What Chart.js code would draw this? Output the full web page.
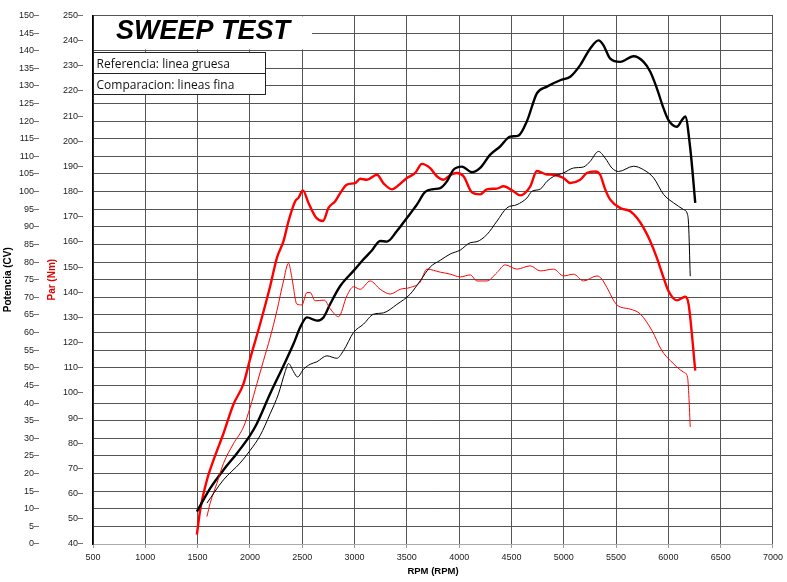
<!DOCTYPE html>
<html>
<head>
<meta charset="utf-8">
<script src="https://cdn.jsdelivr.net/npm/chart.js@4/dist/chart.umd.min.js"></script>
<style>
html,body{margin:0;padding:0;background:#fff;}
#wrap{width:787px;height:582px;}
</style>
</head>
<body>
<div id="wrap"><canvas id="c" width="787" height="582"></canvas></div>
<script>
// ---- data ----
const rpmTicksMin = 500, rpmTicksMax = 7000, rpmStep = 500;
const cvMin = 0, cvMax = 150, cvStep = 5;
const nmMin = 40, nmMax = 250, nmStep = 10;

// Reference power (thick black), CV
const refPowerRpm = [1493,1620,1747,1875,2003,2067,2194,2321,2417,2481,2545,2640,2703,2767,2863,2990,3086,3166,3245,3309,3405,3500,3596,3675,3755,3819,3883,3946,4026,4122,4201,4297,4392,4488,4567,4648,4743,4839,4966,5062,5157,5253,5332,5380,5444,5540,5667,5763,5827,5890,5954,6001,6082,6130,6161,6209,6257];
const refPowerCv  = [9.2,15.8,21.0,25.7,30.9,34.2,42.7,50.6,56.8,61.5,64.3,63.4,64.3,68.1,73.2,77.5,80.8,83.3,86.0,85.8,88.8,92.5,96.3,99.9,100.7,101.0,102.9,106.2,107.1,105.5,106.7,110.5,112.8,115.6,115.9,120.0,127.9,129.8,131.6,132.6,135.9,140.6,142.9,141.5,137.7,136.8,138.4,136.8,134.0,129.3,123.6,120.3,118.4,120.3,121.3,112.3,96.8];

// Comparison power (thin black), CV
const cmpPowerRpm = [1589,1747,1907,2003,2098,2194,2273,2337,2369,2417,2455,2512,2576,2640,2736,2831,2895,2990,3086,3181,3277,3405,3532,3628,3723,3819,3915,4010,4106,4170,4265,4361,4457,4553,4648,4696,4775,4839,4903,4998,5094,5189,5253,5332,5396,5460,5523,5667,5763,5859,5954,6050,6145,6183,6193,6209];
const cmpPowerCv  = [11.6,18.2,23.0,26.6,30.8,37.0,42.6,48.9,51.2,48.9,47.4,49.6,51.0,51.7,53.4,52.7,54.9,60.0,62.4,65.2,65.6,68.0,70.9,74.7,78.6,80.5,82.3,83.4,85.5,85.8,87.8,91.6,95.4,96.3,98.2,100.1,100.7,102.9,104.3,105.3,106.7,107.0,108.6,111.4,109.5,106.7,105.7,107.2,106.2,103.9,99.2,96.8,94.9,93.5,90.7,76.0];

// Reference torque (thick red), Nm
const refTorqueRpm = [1493,1525,1589,1652,1747,1843,1939,2003,2098,2194,2258,2321,2369,2433,2464,2506,2560,2634,2698,2751,2815,2863,2927,3006,3054,3118,3214,3277,3357,3420,3500,3580,3644,3723,3787,3851,3915,3978,4042,4122,4201,4265,4361,4424,4520,4584,4680,4743,4839,4903,4998,5062,5157,5221,5300,5348,5396,5444,5540,5635,5699,5763,5827,5890,5954,6001,6082,6161,6193,6257];
const refTorqueNm  = [43.7,53.6,65.4,73.3,83.9,95.5,103.7,113.7,127.5,142.5,153.7,160.3,168.3,176.2,177.5,180.5,175.5,169.6,168.3,173.5,176.2,179.4,182.8,183.4,185.1,184.7,186.7,183.3,180.9,182.5,185.4,187.4,191.0,189.3,186.1,184.7,186.6,187.4,186.1,179.7,178.9,180.9,181.2,182.1,180.1,178.5,182.1,188.2,186.8,186.7,185.4,183.4,184.7,187.4,188.0,186.7,180.9,176.8,173.5,172.2,169.6,165.6,160.3,153.7,145.8,140.5,136.8,138.2,135.3,108.9];

// Comparison torque (thin red), Nm
const cmpTorqueRpm = [1589,1620,1684,1747,1843,1939,2003,2067,2130,2194,2258,2321,2369,2401,2449,2497,2545,2576,2624,2710,2767,2847,2927,2990,3054,3150,3245,3341,3437,3532,3628,3692,3819,3915,4010,4106,4170,4265,4361,4440,4552,4680,4775,4903,4998,5094,5189,5317,5365,5412,5508,5635,5731,5843,5938,6018,6145,6183,6193,6209];
const cmpTorqueNm  = [50.9,56.2,64.1,72.0,79.9,86.5,94.4,103.7,112.9,122.1,132.7,144.5,151.6,145.8,135.3,135.0,139.9,139.9,136.6,136.9,133.5,130.3,138.6,142.2,141.2,144.5,141.2,139.3,141.2,141.9,144.1,149.2,148.0,147.2,146.1,146.9,144.5,144.5,147.8,150.9,149.2,150.5,148.5,149.2,146.5,147.2,144.5,146.5,145.2,141.9,135.0,133.3,131.4,124.8,116.8,112.9,108.3,106.3,101.0,86.5];

const chartTitle = 'SWEEP TEST';
const legendLines = ['Referencia: linea gruesa', 'Comparacion: lineas fina'];
const xTitle = 'RPM (RPM)';
const cvTitle = 'Potencia (CV)';
const nmTitle = 'Par (Nm)';

function pts(xs, ys){ return xs.map((x,i)=>({x:x, y:ys[i]})); }

const overlay = {
  id: 'overlay',
  beforeDatasetsDraw(chart){
    const ctx = chart.ctx, a = chart.chartArea;
    ctx.save();
    // title area (white, hides grid)
    ctx.fillStyle = '#fff';
    ctx.fillRect(a.left + 1, a.top + 1, 312 - a.left - 1, 49.5 - a.top - 1);
    ctx.fillStyle = '#000';
    ctx.font = 'italic bold 27px "Liberation Sans", Arial, sans-serif';
    ctx.textBaseline = 'alphabetic';
    ctx.textAlign = 'left';
    ctx.fillText(chartTitle, 116, 38.5);
    // legend boxes
    const bx = a.left + 0.5, bw = 172, rows = [[52.5, 21], [73.5, 21]];
    ctx.font = '12px "Open Sans", sans-serif';
    rows.forEach((r, i) => {
      ctx.fillStyle = '#fff';
      ctx.fillRect(bx, r[0], bw, r[1]);
      ctx.strokeStyle = '#222';
      ctx.lineWidth = 1;
      ctx.strokeRect(bx, r[0], bw, r[1]);
      ctx.fillStyle = '#111';
      ctx.fillText(legendLines[i], 96.5, r[0] + 15.3);
    });
    ctx.restore();
  }
};

new Chart(document.getElementById('c'), {
  type: 'line',
  data: {
    datasets: [
      { label: 'cmpPower', data: pts(cmpPowerRpm, cmpPowerCv), yAxisID: 'yCV', borderColor: '#000', borderWidth: 1 },
      { label: 'cmpTorque', data: pts(cmpTorqueRpm, cmpTorqueNm), yAxisID: 'yNm', borderColor: '#ff0000', borderWidth: 1 },
      { label: 'refPower', data: pts(refPowerRpm, refPowerCv), yAxisID: 'yCV', borderColor: '#000', borderWidth: 2.4 },
      { label: 'refTorque', data: pts(refTorqueRpm, refTorqueNm), yAxisID: 'yNm', borderColor: '#ff0000', borderWidth: 2.4 }
    ]
  },
  options: {
    responsive: false,
    animation: false,
    parsing: true,
    elements: { point: { radius: 0 }, line: { cubicInterpolationMode: 'monotone', fill: false } },
    layout: { padding: { top: 13, right: 14, bottom: 0, left: 0 } },
    plugins: { legend: { display: false }, tooltip: { enabled: false }, title: { display: false } },
    scales: {
      x: {
        type: 'linear', min: rpmTicksMin, max: rpmTicksMax,
        ticks: { stepSize: rpmStep, autoSkip: false, maxRotation: 0, padding: 4, color: '#222',
                 font: { family: '"Liberation Sans", Arial, sans-serif', size: 9 },
                 callback: v => String(v) },
        grid: { color: '#555', lineWidth: 1, tickLength: 4, tickColor: '#999' },
        border: { display: true, color: '#aaa', width: 1 },
        title: { display: true, text: xTitle, color: '#000',
                 font: { family: '"Liberation Sans", Arial, sans-serif', size: 9.5, weight: 'bold' },
                 padding: { top: 2, bottom: 5 } },
        afterFit(s){ s.height = 38; }
      },
      yNm: {
        type: 'linear', position: 'left', weight: 0, min: nmMin, max: nmMax,
        ticks: { stepSize: nmStep, autoSkip: false, padding: 10, color: '#222',
                 font: { family: '"Liberation Sans", Arial, sans-serif', size: 9 },
                 callback: v => v + '\u2013' },
        grid: { display: false, drawTicks: false, tickLength: 0 },
        border: { display: true, color: '#000', width: 1.5 },
        title: { display: true, text: nmTitle, color: '#e00000',
                 font: { family: '"Liberation Sans", Arial, sans-serif', size: 10, weight: 'bold' },
                 padding: { top: 2, bottom: 0 } },
        afterFit(s){ s.width = 49; }
      },
      yCV: {
        type: 'linear', position: 'left', weight: 1, min: cvMin, max: cvMax,
        ticks: { stepSize: cvStep, autoSkip: false, padding: 5, color: '#222',
                 font: { family: '"Liberation Sans", Arial, sans-serif', size: 9 },
                 callback: v => v + '\u2013' },
        grid: { display: true, drawOnChartArea: true, drawTicks: false, tickLength: 0, color: '#555', lineWidth: 1 },
        border: { display: false },
        title: { display: true, text: cvTitle, color: '#000',
                 font: { family: '"Liberation Sans", Arial, sans-serif', size: 10, weight: 'bold' },
                 padding: { top: 2, bottom: 0 } },
        afterFit(s){ s.width = 44; }
      }
    }
  },
  plugins: [overlay]
});
</script>
</body>
</html>
